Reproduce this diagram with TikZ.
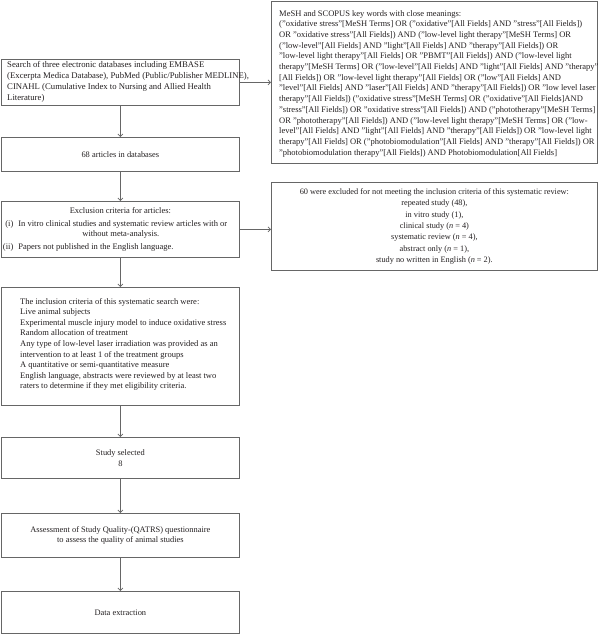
\documentclass[tikz,border=0pt]{standalone}
\usepackage{fontspec}
\setmainfont{Liberation Serif}
\usetikzlibrary{arrows.meta}
\definecolor{linegray}{HTML}{666666}
\definecolor{txtcol}{HTML}{231F20}
\begin{document}
\begin{tikzpicture}[x=1pt,y=-1pt,
  frame/.style={draw=linegray,line width=0.75pt,inner sep=0pt,anchor=north west,text=txtcol,font=\fontsize{8.4}{10.5}\selectfont,align=center},
  txt/.style={inner sep=0pt,anchor=north west,text=txtcol,font=\fontsize{8.5}{10.6}\selectfont,align=left},
  arr/.style={draw=linegray,line width=0.75pt,-{Straight Barb[length=2.5pt,width=5pt]}}]
\useasboundingbox (0,0) rectangle (600,634);
% left column
\node[frame,minimum width=238pt,minimum height=46pt] (search) at (1,59) {};
\node[txt,anchor=west,font=\fontsize{8.7}{10.8}\selectfont] (searchtxt) at ([xshift=6pt,yshift=0.5pt]search.west) {Search of three electronic databases including EMBASE\\(Excerpta Medica Database), PubMed (Public/Publisher MEDLINE),\\CINAHL (Cumulative Index to Nursing and Allied Health\\Literature)};
\node[frame,minimum width=238pt,minimum height=34pt] (articles) at (1,137) {68 articles in databases};
\node[frame,minimum width=238pt,minimum height=56pt,font=\fontsize{8.5}{10}\selectfont] (excl) at (1,201) {\makebox[238pt][c]{Exclusion criteria for articles:}\\[2.5pt]
 \makebox[238pt][l]{\makebox[12pt][r]{(i)}\hspace{5pt}In vitro clinical studies and systematic review articles with or}\\
 \makebox[238pt][l]{\hspace{81pt}without meta-analysis.}\\[3pt]
 \makebox[238pt][l]{\makebox[12pt][r]{(ii)}\hspace{5pt}Papers not published in the English language.}};
\node[frame,minimum width=238pt,minimum height=118pt] (incl) at (1,287) {};
\node[txt,anchor=west,font=\fontsize{8.5}{10.6}\selectfont] (incltxt) at ([xshift=19pt,yshift=2pt]incl.west) {The inclusion criteria of this systematic search were:\\Live animal subjects\\Experimental muscle injury model to induce oxidative stress\\Random allocation of treatment\\Any type of low-level laser irradiation was provided as an\\intervention to at least 1 of the treatment groups\\A quantitative or semi-quantitative measure\\English language, abstracts were reviewed by at least two\\raters to determine if they met eligibility criteria.};
\node[frame,minimum width=238pt,minimum height=41pt] (selected) at (1,437) {Study selected\\8};
\node[frame,minimum width=238pt,minimum height=44pt] (quality) at (1,513) {Assessment of Study Quality-(QATRS) questionnaire\\to assess the quality of animal studies};
\node[frame,minimum width=238pt,minimum height=42pt] (extract) at (1,591) {Data extraction};
% right column
\node[frame,minimum width=326pt,minimum height=162pt] (mesh) at (271,1) {};
\node[txt,font=\fontsize{8.5}{10.7}\selectfont] (meshtxt) at ([xshift=8pt,yshift=-9pt]mesh.north west) {MeSH and SCOPUS key words with close meanings:\\
("oxidative stress''[MeSH Terms] OR ("oxidative''[All Fields] AND "stress''[All Fields])\\
OR "oxidative stress''[All Fields]) AND ("low-level light therapy''[MeSH Terms] OR\\
("low-level''[All Fields] AND "light''[All Fields] AND "therapy''[All Fields]) OR\\
"low-level light therapy''[All Fields] OR "PBMT''[All Fields]) AND ("low-level light\\
therapy''[MeSH Terms] OR ("low-level''[All Fields] AND "light''[All Fields] AND "therapy''\\
{}[All Fields]) OR "low-level light therapy''[All Fields] OR ("low''[All Fields] AND\\
"level''[All Fields] AND "laser''[All Fields] AND "therapy''[All Fields]) OR "low level laser\\
therapy''[All Fields]) ("oxidative stress''[MeSH Terms] OR ("oxidative''[All Fields]AND\\
"stress''[All Fields]) OR "oxidative stress''[All Fields]) AND ("phototherapy''[MeSH Terms]\\
OR "phototherapy''[All Fields]) AND ("low-level light therapy''[MeSH Terms] OR ("low-\\
level''[All Fields] AND "light''[All Fields] AND "therapy''[All Fields]) OR "low-level light\\
therapy''[All Fields] OR ("photobiomodulation''[All Fields] AND "therapy''[All Fields]) OR\\
"photobiomodulation therapy''[All Fields]) AND Photobiomodulation[All Fields]};
\node[frame,minimum width=326pt,minimum height=88pt,font=\fontsize{8.3}{11.4}\selectfont] (excluded) at (271,182) {60 were excluded for not meeting the inclusion criteria of this systematic review:\\repeated study (48),\\in vitro study (1),\\clinical study (\textit{n} = 4)\\systematic review (\textit{n} = 4),\\abstract only (\textit{n} = 1),\\study no written in English (\textit{n} = 2).};
% connectors
\draw[arr] (search.east) -- (search.east -| mesh.west);
\draw[arr] (search.south) -- (articles.north);
\draw[arr] (articles.south) -- (excl.north);
\draw[arr] (excl.east) -- (excl.east -| excluded.west);
\draw[arr] (excl.south) -- (incl.north);
\draw[arr] (incl.south) -- (selected.north);
\draw[arr] (selected.south) -- (quality.north);
\draw[arr] (quality.south) -- (extract.north);
\end{tikzpicture}
\end{document}
